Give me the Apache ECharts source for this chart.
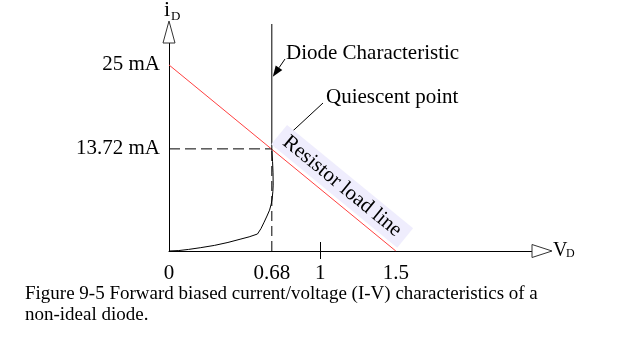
<!DOCTYPE html>
<html>
<head>
<meta charset="utf-8">
<script src="https://cdn.jsdelivr.net/npm/echarts@6/dist/echarts.min.js"></script>
<style>html,body{margin:0;padding:0;background:#fff;}#c{width:620px;height:349px;}</style>
</head>
<body>
<div id="c"></div>
<script>
// ---- data ----
const loadV = [0, 1.5];
const loadI = [25, 0];
const diodeV = [0, 0.065, 0.129, 0.21, 0.30, 0.39, 0.47, 0.53, 0.585, 0.608, 0.629, 0.648, 0.665, 0.676, 0.682, 0.687, 0.689, 0.688, 0.685, 0.68, 0.68];
const diodeI = [0, 0.06, 0.21, 0.45, 0.75, 1.15, 1.58, 1.9, 2.28, 3.0, 3.87, 4.7, 5.49, 6.3, 6.98, 8.0, 8.85, 10.5, 12.0, 13.72, 30.5];
const qV = 0.68;
const qI = 13.72;
const xLabelValues = [0, 0.68, 1, 1.5];
const xTickValues = [1];
const yLabelValues = [13.72, 25];
const xMax = 2.5, yMax = 30.5;

const FONT = '"Liberation Serif", "Times New Roman", serif';
const FS = 21;
const zip = (a, b) => a.map((v, i) => [v, b[i]]);

const chart = echarts.init(document.getElementById('c'), null, {renderer: 'canvas'});
const baseX = {
  type: 'value', min: 0, max: xMax, position: 'bottom',
  splitLine: {show: false}
};
chart.setOption({
  animation: false,
  backgroundColor: '#fff',
  grid: {left: 169, right: 73, top: 24, bottom: 98, containLabel: false},
  xAxis: [
    Object.assign({}, baseX, {
      axisLine: {show: true, lineStyle: {color: '#000', width: 1}},
      axisTick: {show: true, inside: true, length: 9, customValues: xTickValues, lineStyle: {color: '#000'}},
      axisLabel: {show: true, customValues: xLabelValues, margin: 12, color: '#000', fontSize: FS, fontFamily: FONT,
        formatter: v => String(v)}
    }),
    Object.assign({}, baseX, {
      axisLine: {show: false},
      axisTick: {show: true, inside: false, length: 8, customValues: xTickValues, lineStyle: {color: '#000'}},
      axisLabel: {show: false}
    })
  ],
  yAxis: {
    type: 'value', min: 0, max: yMax,
    splitLine: {show: false},
    axisLine: {show: true, lineStyle: {color: '#000', width: 1}},
    axisTick: {show: false},
    axisLabel: {show: true, customValues: yLabelValues, margin: 9, color: '#000', fontSize: FS, fontFamily: FONT,
      formatter: v => v + ' mA'}
  },
  series: [
    {type: 'line', xAxisIndex: 0, data: [[qV, 0], [qV, qI]], symbol: 'none', silent: true,
      lineStyle: {color: '#000', width: 1, type: [10, 5]}, z: 2},
    {type: 'line', xAxisIndex: 0, data: [[0, qI], [qV, qI]], symbol: 'none', silent: true,
      lineStyle: {color: '#000', width: 1, type: [11, 5]}, z: 2},
    {type: 'line', xAxisIndex: 0, data: zip(loadV, loadI), symbol: 'none', silent: true,
      lineStyle: {color: '#ff4040', width: 1}, z: 3},
    {type: 'line', xAxisIndex: 0, data: zip(diodeV, diodeI), symbol: 'none', silent: true, clip: false,
      lineStyle: {color: '#000', width: 1}, z: 4}
  ]
});

// ---- annotations (positions derived from the axes) ----
const px = (v, i) => chart.convertToPixel({xAxisIndex: 0, yAxisIndex: 0}, [v, i]);
const o = px(0, 0);
const yTop = px(0, yMax)[1];
const xEnd = px(xMax, 0)[0];
const q = px(qV, qI);
const dTip = px(qV, 23.4);
const l0 = px(loadV[0], loadI[0]), l1 = px(loadV[1], loadI[1]);
const ang = Math.atan2(l1[1] - l0[1], l1[0] - l0[0]);

function arrow(x1, y1, x2, y2) {
  const a = Math.atan2(y2 - y1, x2 - x1), L = 11, W = 4;
  const bx = x2 - L * Math.cos(a), by = y2 - L * Math.sin(a);
  return [
    {type: 'line', shape: {x1, y1, x2: bx, y2: by}, style: {stroke: '#000', lineWidth: 1}, z: 20},
    {type: 'polygon', shape: {points: [[x2, y2], [bx + W * Math.sin(a), by - W * Math.cos(a)], [bx - W * Math.sin(a), by + W * Math.cos(a)]]},
      style: {fill: '#000'}, z: 20}
  ];
}
const txt = (x, y, text, size, extra) => Object.assign({type: 'text', x, y, z: 30,
  style: Object.assign({text, fill: '#000', fontSize: size, fontFamily: FONT, verticalAlign: 'middle'}, extra || {})});

// text box along the load line
const tv = 1.078, ti = loadI[0] * (1 - tv / loadV[1]);
const tp = px(tv, ti);
const nx = Math.sin(ang), ny = -Math.cos(ang); // normal pointing up-right
const off = 16;

const graphics = [
  // open arrow heads on axes
  {type: 'polygon', shape: {points: [[o[0], yTop - 3], [o[0] - 6, yTop + 19], [o[0] + 6, yTop + 19]]},
    style: {fill: '#fff', stroke: '#333', lineWidth: 1}, z: 25},
  {type: 'polygon', shape: {points: [[xEnd + 5, o[1]], [xEnd - 15, o[1] - 6.5], [xEnd - 15, o[1] + 6.5]]},
    style: {fill: '#fff', stroke: '#333', lineWidth: 1}, z: 25},
  // axis names
  txt(164, 10, 'i', 22, {}),
  txt(171, 17, 'D', 13, {}),
  txt(553, 251, 'V', 20, {}),
  txt(566, 254, 'D', 12, {}),
  // annotations
  txt(286, 53, 'Diode Characteristic', FS),
  txt(326, 97, 'Quiescent point', FS),
  ...arrow(285, 59, dTip[0] + 1, dTip[1]),
  ...arrow(323, 103, q[0] + 3.5, q[1] - 1.7),
  {type: 'text', x: tp[0] + nx * off, y: tp[1] + ny * off, rotation: -ang, z: 30,
    style: {text: 'Resistor load line', fill: '#000', fontSize: FS, fontFamily: FONT, align: 'center', verticalAlign: 'middle',
      backgroundColor: '#efedfd', padding: [2, 8]}},
  // caption
  {type: 'text', x: 25, y: 284, z: 30,
    style: {text: 'Figure 9-5 Forward biased current/voltage (I-V) characteristics of a\nnon-ideal diode.',
      fill: '#000', fontSize: 19, fontFamily: FONT, lineHeight: 21, verticalAlign: 'top'}}
];
chart.setOption({graphic: graphics});
</script>
</body>
</html>
